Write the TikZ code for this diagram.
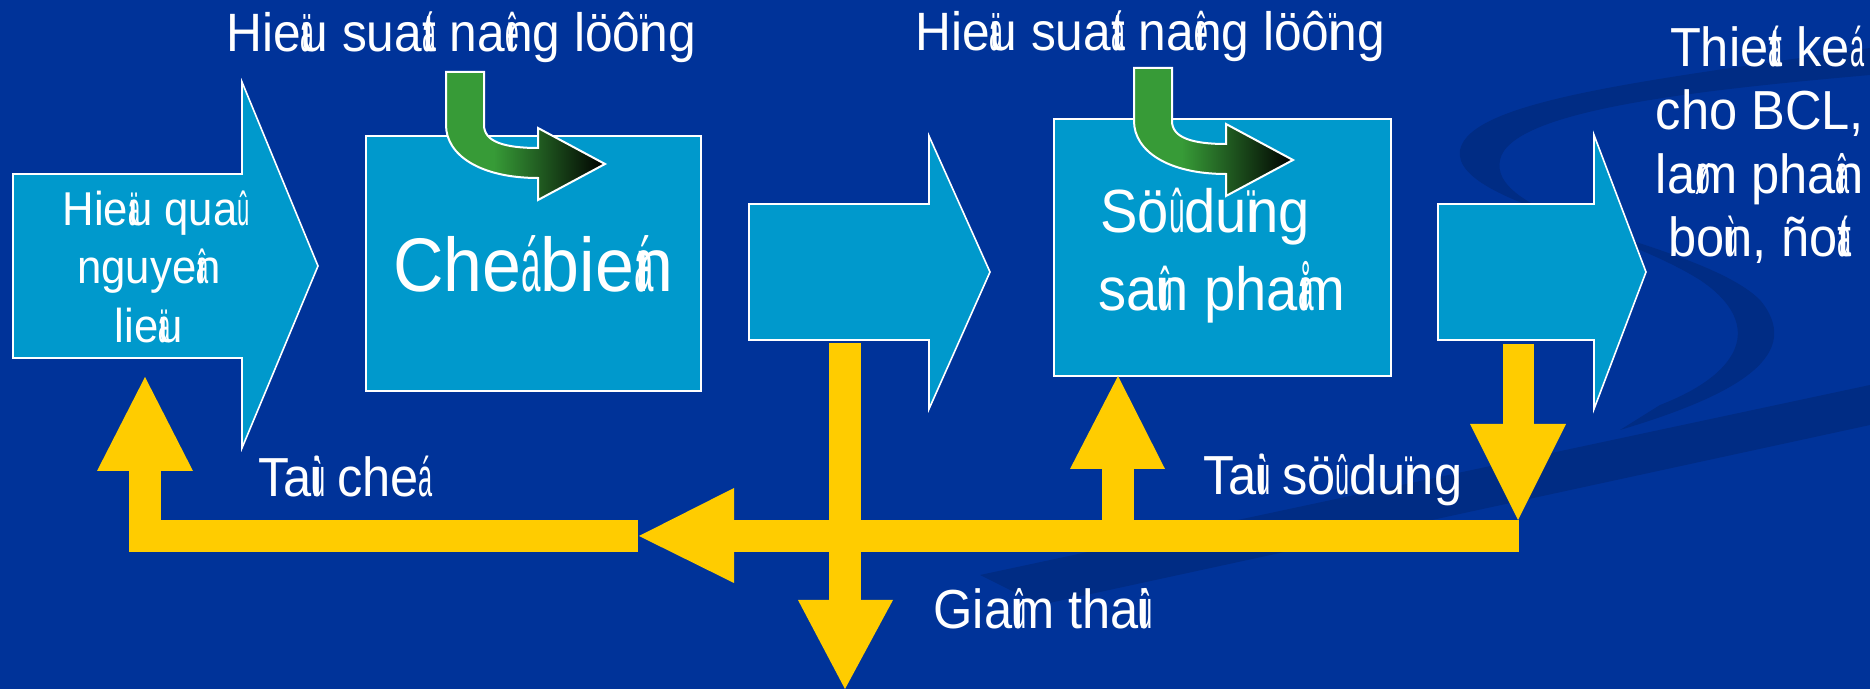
\documentclass[tikz,border=0pt]{standalone}
\usepackage{fontspec}
\setmainfont{Liberation Sans}[FakeStretch=0.92]
\usepackage{graphicx}
\newcommand\ovm[1]{\makebox[0pt][l]{\scalebox{0.5}[1]{#1}}}
\definecolor{bgblue}{RGB}{0,51,153}
\definecolor{swdark}{RGB}{0,44,132}
\definecolor{boxcyan}{RGB}{0,153,204}
\definecolor{ylw}{RGB}{255,204,0}
\definecolor{grn}{RGB}{55,155,55}
\pgfdeclarehorizontalshading{greenarrow}{100bp}{color(0bp)=(grn); color(25bp)=(grn); color(40bp)=(grn); color(75bp)=(black); color(100bp)=(black)}
\tikzset{
  lbl/.style={text=white, inner sep=0pt, anchor=base},
  lblw/.style={text=white, inner sep=0pt, anchor=base west},
  cyanshape/.style={fill=boxcyan, draw=white, line width=0.8pt},
  greenshape/.style={shading=greenarrow, draw=white, line width=1pt},
  yshape/.style={fill=ylw},
  fhead/.style={font=\fontsize{27}{32}\selectfont},
  fsmall/.style={font=\fontsize{23.75}{28}\selectfont},
  fbig/.style={font=\fontsize{38}{44}\selectfont},
  fmid/.style={font=\fontsize{30.5}{36}\selectfont},
  flow/.style={font=\fontsize{27.5}{32}\selectfont},
}
\begin{document}
\begin{tikzpicture}[x=0.5pt,y=-0.5pt]
\useasboundingbox (0,0) rectangle (1870,689);
\fill[bgblue] (0,0) rectangle (1870,689);
% background swoosh
\fill[swdark] (1870,48) .. controls (1650,80) and (1470,100) .. (1460,150)
  .. controls (1450,210) and (1700,240) .. (1760,300)
  .. controls (1810,360) and (1720,400) .. (1620,430)
  -- (1660,405) .. controls (1750,370) and (1760,320) .. (1700,280)
  .. controls (1620,230) and (1490,210) .. (1500,160)
  .. controls (1510,110) and (1700,90) .. (1870,75) -- cycle;
\fill[swdark] (980,575) -- (1870,385) -- (1870,425) -- (1040,605) -- cycle;
% cyan process shapes
\path[cyanshape] (13,174) -- (242,174) -- (242,82) -- (318,266) -- (242,448) -- (242,358) -- (13,358) -- cycle;
\path[cyanshape] (366,136) rectangle (701,391);
\path[cyanshape] (749,204) -- (929,204) -- (929,136) -- (990,272) -- (929,409) -- (929,340) -- (749,340) -- cycle;
\path[cyanshape] (1054,119) rectangle (1391,376);
\path[cyanshape] (1438,204) -- (1594,204) -- (1594,135) -- (1646,272) -- (1594,409) -- (1594,340) -- (1438,340) -- cycle;
% green energy arrows
\foreach \dx/\dy in {0/0, 688/-4}{
\begin{scope}[shift={(\dx,\dy)}]
\path[greenshape] (446,72) -- (484,72) -- (484,125) .. controls (484,142) and (505,148) .. (538,148)
  -- (538,128) -- (605,164) -- (538,200) -- (538,178)
  .. controls (480,178) and (446,155) .. (446,125) -- cycle;
\end{scope}}
% yellow flows
\fill[yshape] (129,520) rectangle (638,552);
\fill[yshape] (733,520) rectangle (1519,552);
\fill[yshape] (639,536) -- (734,488) -- (734,583) -- cycle;
\fill[yshape] (129,471) rectangle (161,552);
\fill[yshape] (97,471) -- (193,471) -- (145,377) -- cycle;
\fill[yshape] (829,343) rectangle (861,600);
\fill[yshape] (798,600) -- (893,600) -- (845,689) -- cycle;
\fill[yshape] (1102,469) rectangle (1134,536);
\fill[yshape] (1070,469) -- (1165,469) -- (1118,376) -- cycle;
\fill[yshape] (1503,344) rectangle (1534,424);
\fill[yshape] (1470,424) -- (1566,424) -- (1518,520) -- cycle;
% labels
\node[lbl, fhead] (eff1) at (461,52) {Hie\ovm{ä}u sua\ovm{á}t na\ovm{ê}ng löô\ovm{ï}ng};
\node[lbl, fhead] (eff2) at (1150,51) {Hie\ovm{ä}u sua\ovm{á}t na\ovm{ê}ng löô\ovm{ï}ng};
\node[lbl, fsmall] (raw1) at (150,226) {Hie\ovm{ä}u qua\ovm{û}};
\node[lbl, fsmall] (raw2) at (149,284) {nguye\ovm{â}n};
\node[lbl, fsmall] (raw3) at (149,343) {lie\ovm{ä}u};
\node[lbl, fbig] (proc) at (533,292) {Che\ovm{á} bie\ovm{á}n};
\node[lblw, fmid] (use1) at (1100,233) {Sö\ovm{û} du\ovm{ï}ng};
\node[lblw, fmid] (use2) at (1098,311) {sa\ovm{û}n pha\ovm{å}m};
\node[lblw, flow] (recyc) at (258,497) {Ta\ovm{ù}i che\ovm{á}};
\node[lblw, flow] (reuse) at (1203,495) {Ta\ovm{ù}i sö\ovm{û} du\ovm{ï}ng};
\node[lblw, flow] (reduce) at (933,629) {Gia\ovm{û}m tha\ovm{û}i};
\node[lbl, flow] (out1) at (1760,67) {Thie\ovm{á}t ke\ovm{á}};
\node[lbl, flow] (out2) at (1760,130) {cho BCL,};
\node[lbl, flow] (out3) at (1760,194) {la\ovm{ø}m pha\ovm{â}n};
\node[lbl, flow] (out4) at (1760,257) {bo\ovm{ù}n, ño\ovm{á}t};
\end{tikzpicture}
\end{document}
